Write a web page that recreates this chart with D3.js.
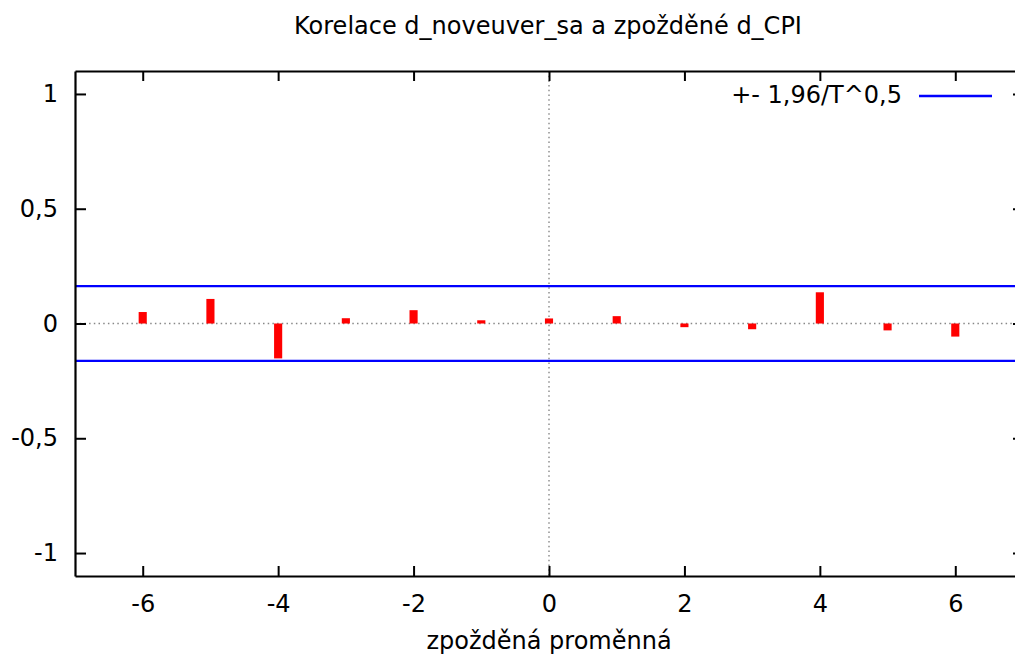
<!DOCTYPE html>
<html>
<head>
<meta charset="utf-8">
<script src="https://cdn.jsdelivr.net/npm/d3@7"></script>
<style>
  html, body { margin: 0; padding: 0; background: #fff; }
  svg { display: block; font-family: "DejaVu Sans", sans-serif; }
</style>
</head>
<body>
<svg id="chart" width="1015" height="657"></svg>
<script>
// ---- data ----
const lags = [-6, -5, -4, -3, -2, -1, 0, 1, 2, 3, 4, 5, 6];
const correlations = [0.050, 0.107, -0.152, 0.023, 0.058, 0.014, 0.022, 0.032, -0.016, -0.025, 0.136, -0.030, -0.057];
const bandValue = 0.163;
const xTicks = [-6, -4, -2, 0, 2, 4, 6];
const yTicks = [-1, -0.5, 0, 0.5, 1];
const titleText = "Korelace d_noveuver_sa a zpožděné d_CPI";
const xLabelText = "zpožděná proměnná";
const legendText = "+- 1,96/T^0,5";

// ---- layout ----
const svg = d3.select("#chart");
const pLeft = 75, pRight = 1023, pTop = 71, pBottom = 576;
const x = d3.scaleLinear().domain([-7, 7]).range([pLeft, pRight]);
const y = d3.scaleLinear().domain([-1.1, 1.1]).range([pBottom, pTop]);
const fmt = d => String(d).replace(".", ",");
const FS = 24;

// dotted zero axes
svg.append("line")
  .attr("x1", x(-7)).attr("x2", x(7)).attr("y1", y(0)).attr("y2", y(0))
  .attr("stroke", "#888").attr("stroke-width", 1.4).attr("stroke-dasharray", "1.5,3.2");
svg.append("line")
  .attr("x1", x(0)).attr("x2", x(0)).attr("y1", y(1.1)).attr("y2", y(-1.1))
  .attr("stroke", "#888").attr("stroke-width", 1.4).attr("stroke-dasharray", "1.5,3.2");

// bars
const halfW = 0.06;
svg.append("g").selectAll("rect").data(lags).join("rect")
  .attr("x", (d) => x(d - halfW))
  .attr("width", (d) => x(d + halfW) - x(d - halfW))
  .attr("y", (d, i) => y(Math.max(0, correlations[i])))
  .attr("height", (d, i) => Math.abs(y(correlations[i]) - y(0)))
  .attr("fill", "#ff0000");

// confidence band lines
svg.append("g").selectAll("line").data([bandValue, -bandValue]).join("line")
  .attr("x1", x(-7)).attr("x2", x(7))
  .attr("y1", d => y(d)).attr("y2", d => y(d))
  .attr("stroke", "#0000ff").attr("stroke-width", 2.3);

// axes
function styleAxis(g) {
  g.attr("font-family", null).attr("font-size", null);
  g.selectAll("path.domain").attr("stroke", "#000").attr("stroke-width", 2.2);
  g.selectAll(".tick line").attr("stroke", "#000").attr("stroke-width", 2);
  g.selectAll(".tick text").attr("fill", "#000")
    .style("font-family", '"DejaVu Sans", sans-serif').style("font-size", FS + "px");
}
svg.append("g").attr("transform", `translate(${pLeft},0)`)
  .call(d3.axisLeft(y).tickValues(yTicks).tickFormat(fmt).tickSizeInner(-11).tickSizeOuter(0).tickPadding(17))
  .call(styleAxis);
svg.append("g").attr("transform", `translate(${pRight},0)`)
  .call(d3.axisRight(y).tickValues(yTicks).tickFormat("").tickSizeInner(-10).tickSizeOuter(0))
  .call(styleAxis);
svg.append("g").attr("transform", `translate(0,${pBottom})`)
  .call(d3.axisBottom(x).tickValues(xTicks).tickFormat(fmt).tickSizeInner(-10).tickSizeOuter(0).tickPadding(19))
  .call(styleAxis);
svg.append("g").attr("transform", `translate(0,${pTop})`)
  .call(d3.axisTop(x).tickValues(xTicks).tickFormat("").tickSizeInner(-10).tickSizeOuter(0))
  .call(styleAxis);

// title
svg.append("text").attr("x", 548).attr("y", 34).attr("text-anchor", "middle")
  .attr("font-size", FS).attr("fill", "#000").text(titleText);

// x label
svg.append("text").attr("x", 549).attr("y", 649).attr("text-anchor", "middle")
  .attr("font-size", FS).attr("fill", "#000").text(xLabelText);

// legend
svg.append("text").attr("x", 902).attr("y", 103).attr("text-anchor", "end")
  .attr("font-size", FS).attr("fill", "#000").text(legendText);
svg.append("line").attr("x1", 919).attr("x2", 992).attr("y1", 96).attr("y2", 96)
  .attr("stroke", "#0000ff").attr("stroke-width", 2.3);
</script>
</body>
</html>
